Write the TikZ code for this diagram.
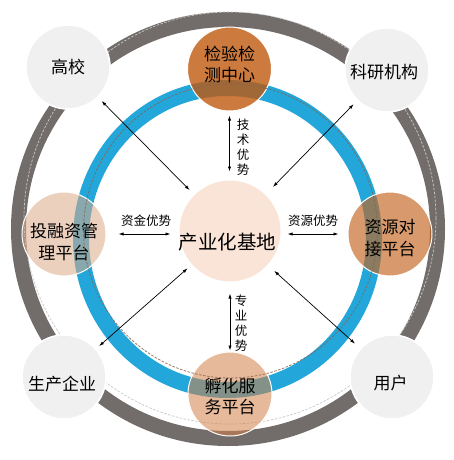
\documentclass[tikz,border=0pt]{standalone}
\usepackage{fontspec}
\setmainfont{Noto Sans CJK SC}
\usetikzlibrary{arrows.meta}
\definecolor{ringgray}{RGB}{114,109,107}
\definecolor{ringblue}{RGB}{35,166,217}
\definecolor{dashlight}{RGB}{200,200,200}
\definecolor{dashbrown}{RGB}{135,100,80}
\definecolor{cornerfill}{RGB}{240,240,240}
\definecolor{centerfill}{RGB}{250,228,215}
\definecolor{jccol}{RGB}{192,89,14}
\definecolor{zycol}{RGB}{196,100,32}
\definecolor{fhcol}{RGB}{213,128,73}
\definecolor{trcol}{RGB}{222,170,137}
\tikzset{
  corner/.style={circle, minimum size=84pt, inner sep=0pt, fill=cornerfill, draw=white, line width=1.5pt},
  plat/.style={circle, minimum size=84pt, inner sep=0pt, draw=white, line width=1pt, text opacity=1},
  hub/.style={circle, minimum size=102pt, inner sep=0pt, fill=centerfill, draw=white, line width=1pt},
  bigtext/.style={font=\fontsize{17pt}{21.5pt}\selectfont, align=center, text=black, text opacity=1, inner sep=0pt},
  hubtext/.style={font=\fontsize{19.5pt}{23pt}\selectfont, text=black, inner sep=0pt},
  edgetext/.style={font=\fontsize{12.5pt}{15pt}\selectfont, align=center, text=black, inner sep=0pt},
  arr/.style={{Latex[length=5pt,width=3.2pt]}-{Latex[length=5pt,width=3.2pt]}, line width=0.7pt, black},
}
\begin{document}
\begin{tikzpicture}[x=1pt,y=-1pt]
\useasboundingbox (0,0) rectangle (454,460);
\fill[white] (0,0) rectangle (454,460);
% rings
\draw[ringgray, line width=15pt] (228,229) circle [radius=209.5];
\draw[dashlight, line width=0.7pt, dash pattern=on 2.5pt off 1.5pt] (230,218) circle [radius=206];
\draw[ringblue, line width=16pt] (227.5,239) ellipse [x radius=146.5, y radius=151];
% platform nodes (translucent)
\node[plat, fill=jccol, fill opacity=0.8, label={[bigtext, yshift=4.5pt]center:检验检\\测中心}] (jc) at (229.5,69) {};
\node[plat, fill=trcol, fill opacity=0.55, label={[bigtext, yshift=-8pt]center:投融资管\\理平台}] (tr) at (64,234) {};
\node[plat, fill=zycol, fill opacity=0.65, label={[bigtext, yshift=-4pt]center:资源对\\接平台}] (zy) at (390,234) {};
\node[plat, fill=fhcol, fill opacity=0.55, label={[bigtext, yshift=-2.5pt]center:孵化服\\务平台}] (fh) at (230,394) {};
% dashed line on blue ring
\draw[dashbrown, line width=0.8pt, dash pattern=on 2.5pt off 1.5pt, opacity=0.85] (230.5,231) circle [radius=147];
% corner nodes
\node[corner, label={[bigtext]center:高校}] (gx) at (68,67) {};
\node[corner, label={[bigtext, xshift=-3pt, yshift=-2pt]center:科研机构}] (ky) at (387,70) {};
\node[corner, label={[bigtext, xshift=-2pt, yshift=-7pt]center:生产企业}] (sc) at (64,377) {};
\node[corner, label={[bigtext, xshift=-1.5pt, yshift=-6pt]center:用户}] (yh) at (392,377) {};
% hub
\node[hub, label={[hubtext, xshift=-2.5pt, yshift=-11pt]center:产业化基地}] (cn) at (230,231) {};
% arrows
\draw[arr, shorten <=6pt, shorten >=5pt] (cn) -- (gx);
\draw[arr, shorten <=10pt, shorten >=5pt] (cn) -- (ky);
\draw[arr, shorten <=5pt, shorten >=4pt] (cn) -- (sc);
\draw[arr, shorten <=8pt, shorten >=7pt] (cn) -- (yh);
\draw[arr, shorten <=4pt, shorten >=8pt] (jc) -- (jc |- cn.north);
\draw[arr, shorten <=11pt, shorten >=1pt] (fh |- cn.south) -- (fh);
\draw[arr, shorten <=12pt, shorten >=8pt] (tr) -- (tr -| cn.west);
\draw[arr, shorten <=6pt, shorten >=9pt] (zy -| cn.east) -- (zy);
% edge labels
\node[edgetext] (l1) at (243,147) {技\\术\\优\\势};
\node[edgetext] (l2) at (241,323) {专\\业\\优\\势};
\node[edgetext] (l3) at (146,221) {资金优势};
\node[edgetext] (l4) at (313,221) {资源优势};
\end{tikzpicture}
\end{document}
